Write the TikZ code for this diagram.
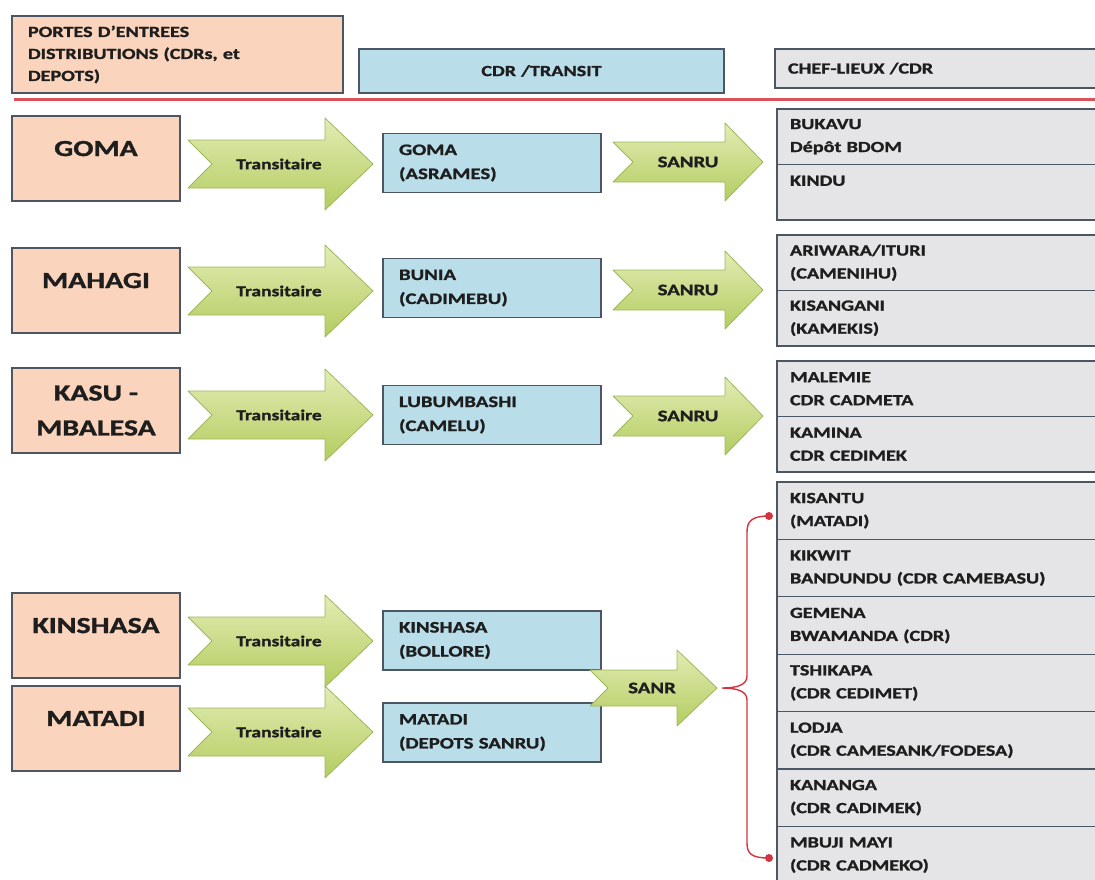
\documentclass[tikz,border=0pt]{standalone}
\usepackage{fontspec}
\setmainfont{Carlito}[FakeStretch=1.3, BoldFeatures={FakeBold=1.3}]
\usetikzlibrary{positioning}

\definecolor{portorange}{HTML}{FAD4BC}
\definecolor{cdrblue}{HTML}{B9DEE9}
\definecolor{chefgray}{HTML}{E5E5E7}
\definecolor{boxline}{HTML}{4C5763}
\definecolor{arrtop}{HTML}{E2ECB4}
\definecolor{arrbot}{HTML}{B4CC60}
\definecolor{arrline}{HTML}{9DB85A}
\definecolor{bracered}{HTML}{D4343F}
\definecolor{textdark}{HTML}{1E1E1E}

\tikzset{
  anybox/.style={draw=boxline, line width=1.2pt, inner ysep=0pt, text=textdark},
  portbox/.style={anybox, fill=portorange, minimum width=168pt, minimum height=85pt,
    inner xsep=0pt, align=center, font=\fontsize{23pt}{35pt}\selectfont\bfseries},
  onetop/.style={text depth=20pt},
  cdrbox/.style={anybox, fill=cdrblue, inner xsep=16pt, text width=186pt,
    minimum height=59pt, align=left, font=\fontsize{16pt}{24pt}\selectfont\bfseries},
  chefbox/.style={anybox, fill=chefgray, inner xsep=13pt, text width=297pt,
    minimum height=55.5pt, align=left, outer sep=0pt,
    font=\fontsize{15.5pt}{23pt}\selectfont\bfseries},
  cheflow/.style={chefbox, minimum height=57.4pt},
  headfont/.style={font=\fontsize{15.5pt}{22pt}\selectfont\bfseries},
  fatarr/.style={top color=arrtop, bottom color=arrbot, draw=arrline,
    line width=0.8pt, line join=round},
  arrtxt/.style={inner sep=0pt, text=textdark, font=\fontsize{15pt}{18pt}\selectfont\bfseries},
  sanrtxt/.style={arrtxt, font=\fontsize{16pt}{18pt}\selectfont\bfseries},
  redrule/.style={draw=bracered!85, line width=3pt},
  brace/.style={draw=bracered, line width=1.4pt},
  reddot/.style={circle, fill=bracered, inner sep=0pt, minimum size=8pt}
}

%Block arrow with a notched tail
% #1 name, #2 tail x, #3 head x, #4 tip x, #5 centre y, #6 half body, #7 half head, #8 text
\newcommand{\fatarrow}[8]{%
  \draw[fatarr] (#2,{#5-#6}) -- (#3,{#5-#6}) -- (#3,{#5-#7}) -- (#4,#5)
    -- (#3,{#5+#7}) -- (#3,{#5+#6}) -- (#2,{#5+#6}) -- ({#2+#6},#5) -- cycle;
  \coordinate (#1tip) at (#4,#5);
}

\begin{document}
\begin{tikzpicture}[x=1pt,y=-1pt]
  \useasboundingbox (0,0) rectangle (1095,879);
  \fill[white] (0,0) rectangle (1095,879);

  %Headers
  \node[anybox, headfont, fill=portorange, inner xsep=16pt, text width=299pt,
    minimum height=77pt, align=left] (headport) at (177.5,54.5)
    {PORTES D’ENTREES\\DISTRIBUTIONS (CDRs, et\\DEPOTS)};
  \node[anybox, headfont, fill=cdrblue, inner xsep=16pt, text width=333pt,
    minimum height=44pt, align=center] (headcdr) at (541.5,71) {CDR /TRANSIT};
  \node[anybox, headfont, fill=chefgray, inner xsep=13pt, text width=299pt,
    minimum height=39pt, align=left] (headchef) at (937.5,68.5) {CHEF-LIEUX /CDR};
  \coordinate (rulel) at (14,99);
  \coordinate (ruler) at (1095,99);
  \draw[redrule] (rulel) -- (ruler);

  %Ports of entry
  \node[portbox, onetop] (portgoma)   at (96,158.5) {GOMA};
  \node[portbox, onetop] (portmahagi) at (96,290.5) {MAHAGI};
  \node[portbox]         (portkasu)   at (96,410.5) {KASU -\\MBALESA};
  \node[portbox, onetop] (portkin)    at (96,635.5) {KINSHASA};
  \node[portbox, onetop] (portmat)    at (96,728.5) {MATADI};

  %CDR / transit
  \node[cdrbox] (cdrgoma)  at (492,163)   {GOMA\\(ASRAMES)};
  \node[cdrbox] (cdrbunia) at (492,288)   {BUNIA\\(CADIMEBU)};
  \node[cdrbox] (cdrlubum) at (492,415)   {LUBUMBASHI\\(CAMELU)};
  \node[cdrbox] (cdrkin)   at (492,640.5) {KINSHASA\\(BOLLORE)};
  \node[cdrbox] (cdrmat)   at (492,732.5) {MATADI\\(DEPOTS SANRU)};

  %Chef-lieux / CDR
  \node[chefbox] (chefbukavu) at (938.5,136.75) {BUKAVU\\Dépôt BDOM};
  \node[chefbox, text depth=23pt, below=0pt of chefbukavu] (chefkindu) {KINDU};
  \node[chefbox] (chefariwara) at (938.5,262.75) {ARIWARA/ITURI\\(CAMENIHU)};
  \node[chefbox, below=0pt of chefariwara] (chefkisang) {KISANGANI\\(KAMEKIS)};
  \node[chefbox] (chefmalemie) at (938.5,388.75) {MALEMIE\\CDR CADMETA};
  \node[chefbox, below=0pt of chefmalemie] (chefkamina) {KAMINA\\CDR CEDIMEK};
  \node[cheflow] (chefkisantu) at (938.5,510.7) {KISANTU\\(MATADI)};
  \node[cheflow, below=0pt of chefkisantu] (chefkikwit) {KIKWIT\\BANDUNDU (CDR CAMEBASU)};
  \node[cheflow, below=0pt of chefkikwit] (chefgemena) {GEMENA\\BWAMANDA (CDR)};
  \node[cheflow, below=0pt of chefgemena] (cheftshik) {TSHIKAPA\\(CDR CEDIMET)};
  \node[cheflow, below=0pt of cheftshik] (cheflodja) {LODJA\\(CDR CAMESANK/FODESA)};
  \node[cheflow, below=0pt of cheflodja] (chefkananga) {KANANGA\\(CDR CADIMEK)};
  \node[cheflow, below=0pt of chefkananga] (chefmbuji) {MBUJI MAYI\\(CDR CADMEKO)};

  %Transitaire arrows
  \fatarrow{trgoma}{188}{325}{373}{164}{24}{46}{}
  \node[arrtxt] (trgomat) at (279,164) {Transitaire};
  \fatarrow{trmahagi}{188}{325}{373}{291}{24}{46}{}
  \node[arrtxt] (trmahagit) at (279,291) {Transitaire};
  \fatarrow{trkasu}{188}{325}{373}{415}{24}{46}{}
  \node[arrtxt] (trkasut) at (279,415) {Transitaire};
  \fatarrow{trkin}{188}{325}{373}{641}{24}{46}{}
  \node[arrtxt] (trkint) at (279,641) {Transitaire};
  \fatarrow{trmat}{188}{325}{373}{732}{24}{46}{}
  \node[arrtxt] (trmatt) at (279,732) {Transitaire};

  %SANRU arrows
  \fatarrow{sagoma}{613}{725}{763}{162}{20}{39}{}
  \node[sanrtxt] (sagomat) at (688,162) {SANRU};
  \fatarrow{sabunia}{613}{725}{763}{290}{20}{39}{}
  \node[sanrtxt] (sabuniat) at (688,290) {SANRU};
  \fatarrow{salubum}{613}{725}{763}{416}{20}{39}{}
  \node[sanrtxt] (salubumt) at (688,416) {SANRU};
  \fatarrow{sanr}{590}{677}{717}{688}{18}{38}{}
  \node[sanrtxt] (sanrt) at (652,688) {SANR};

  %Brace to the lower group
  \node[reddot] (dotup)   at (769,516) {};
  \node[reddot] (dotdown) at (769,858) {};
  \coordinate[xshift=5pt] (bracetip) at (sanrtip);
  \draw[brace] (dotup.center) .. controls (752,516) and (747,521) .. (747,532)
    -- (747,676) .. controls (747,685) and (737,688) .. (bracetip)
    .. controls (737,688) and (747,691) .. (747,700)
    -- (747,843) .. controls (747,854) and (752,858) .. (dotdown.center);

\end{tikzpicture}
\end{document}
